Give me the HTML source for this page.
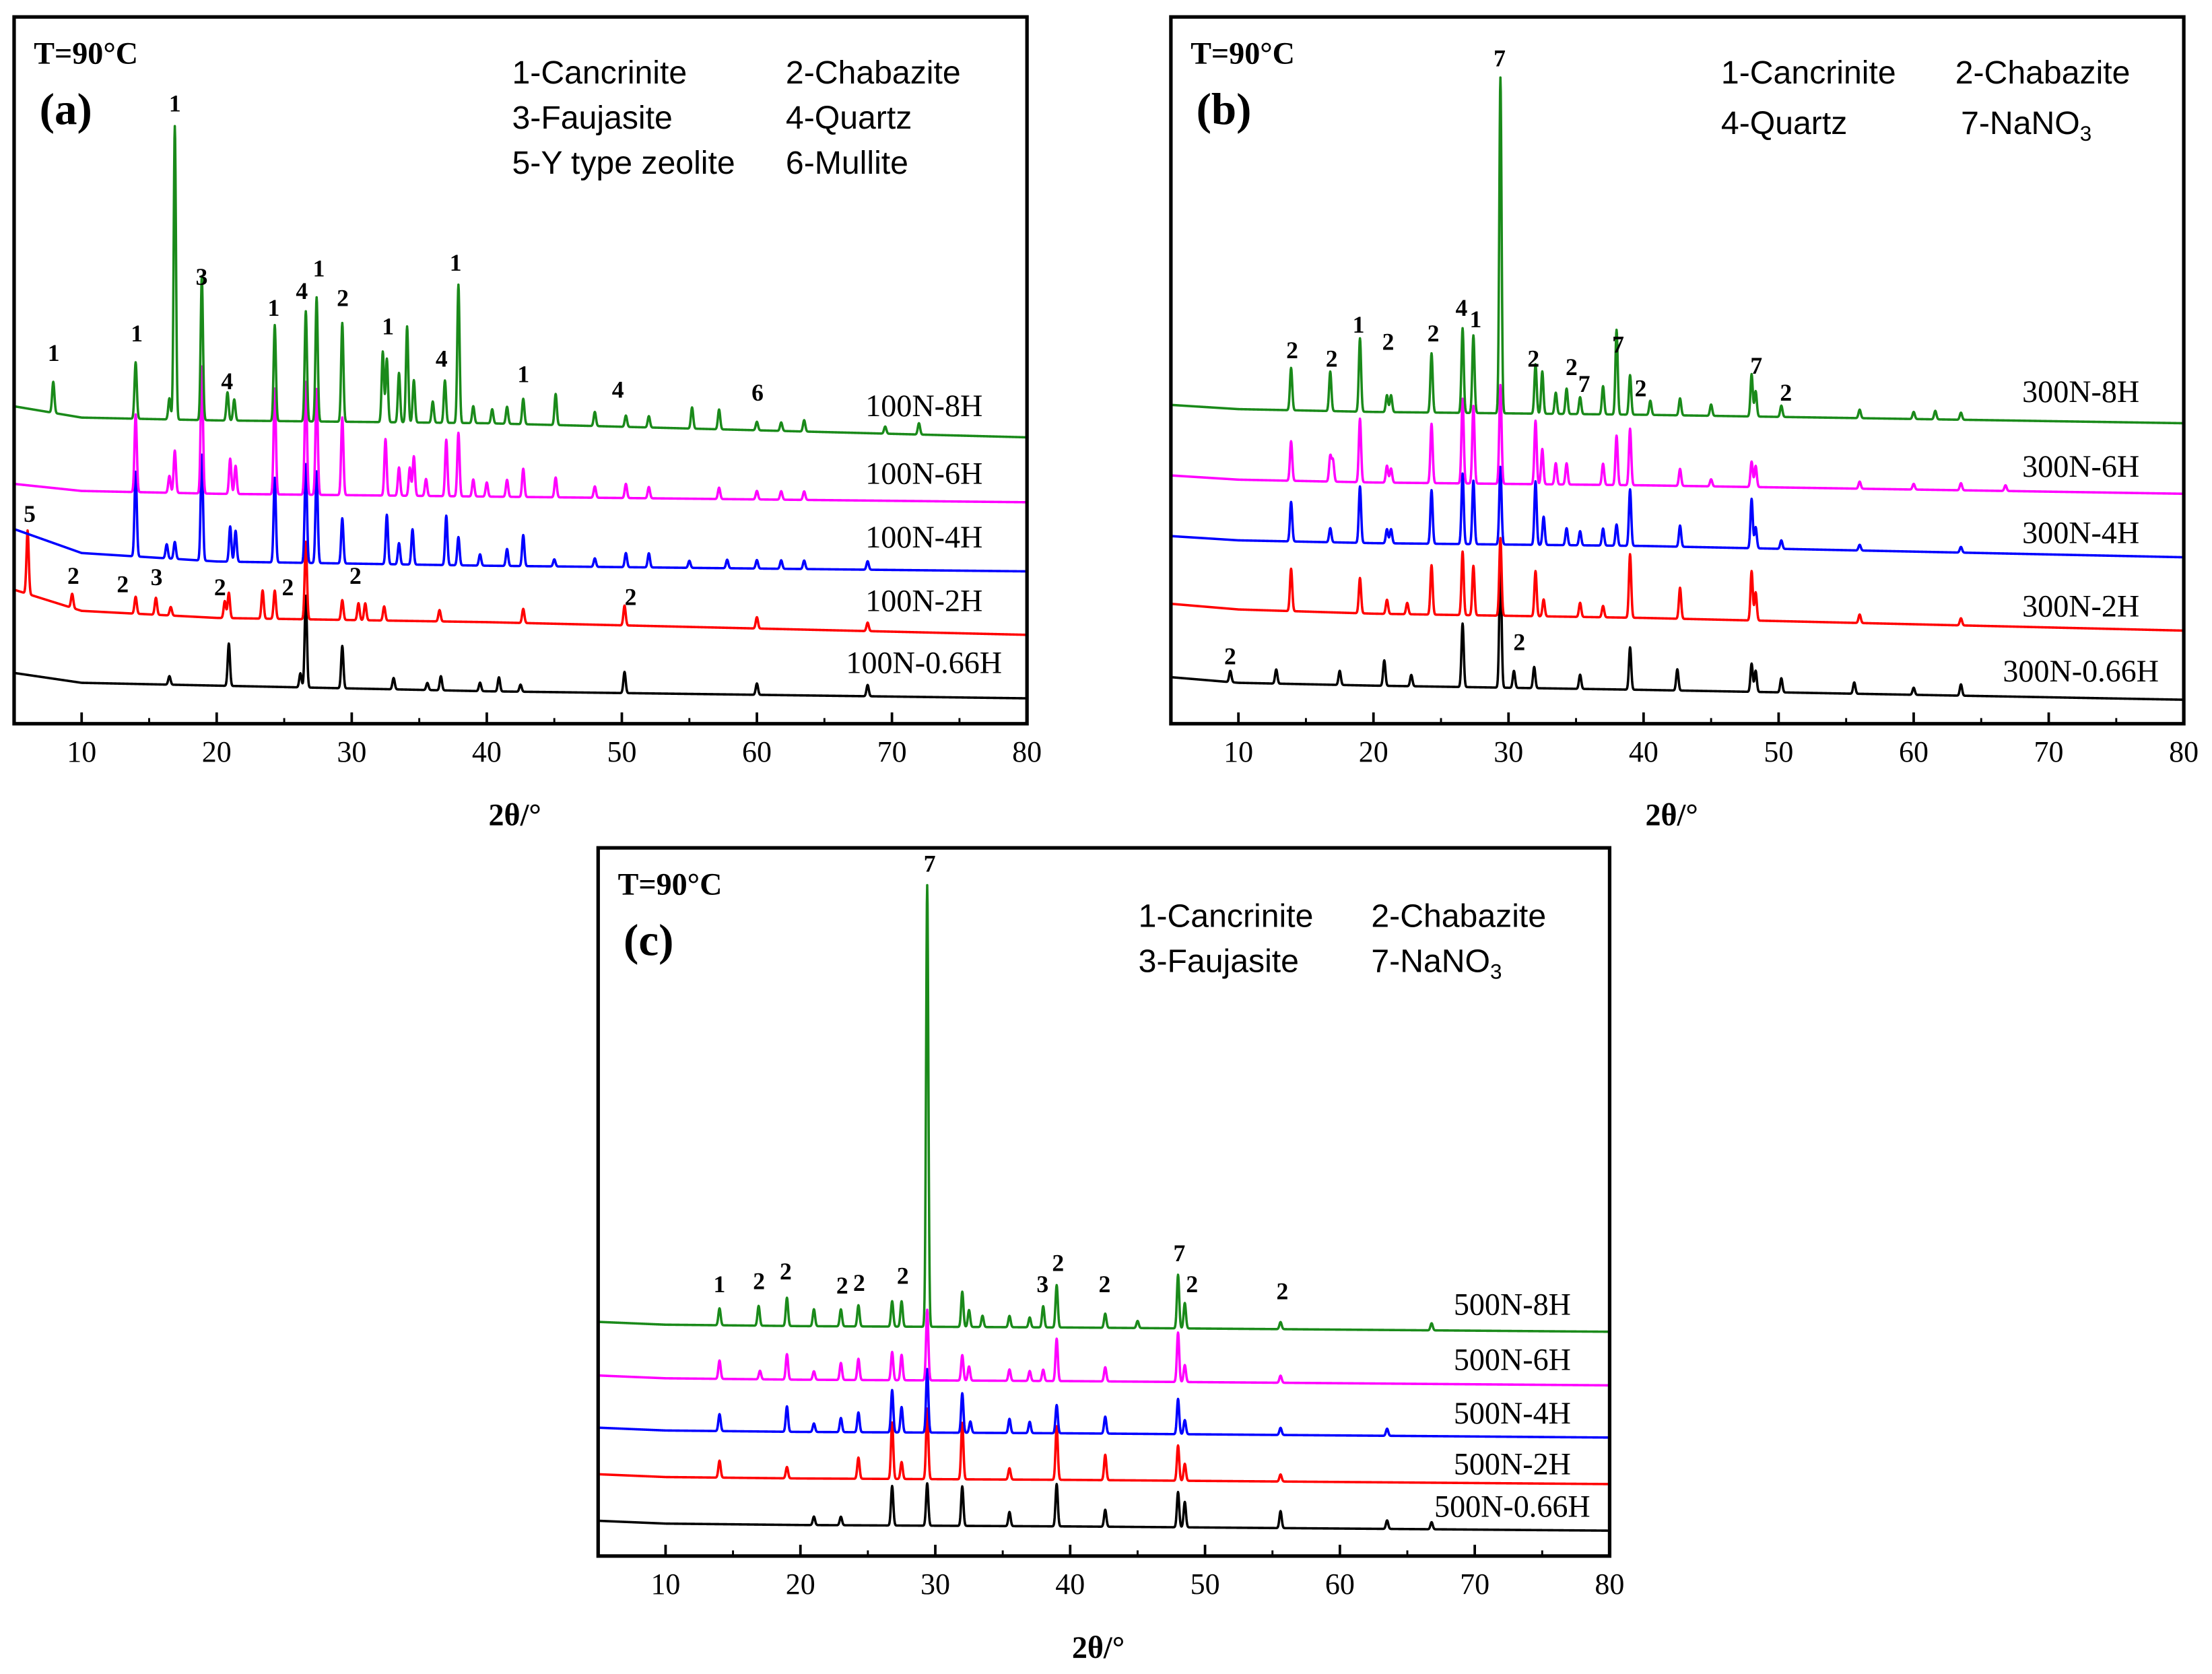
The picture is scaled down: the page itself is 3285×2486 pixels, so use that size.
<!DOCTYPE html>
<html><head><meta charset="utf-8"><title>XRD patterns</title>
<style>
html,body{margin:0;padding:0;background:#fff;}
svg{display:block;}
.tick{font-family:"Liberation Serif",serif;font-size:21px;fill:#000;}
.lbl{font-family:"Liberation Serif",serif;font-size:22px;fill:#000;}
.ann{font-family:"Liberation Serif",serif;font-size:17px;font-weight:bold;fill:#000;}
.leg{font-family:"Liberation Sans",sans-serif;font-size:23px;fill:#000;}
.temp{font-family:"Liberation Serif",serif;font-size:22px;font-weight:bold;fill:#000;}
.pl{font-family:"Liberation Serif",serif;font-size:32px;font-weight:bold;fill:#000;}
.ttl{font-family:"Liberation Serif",serif;font-size:22px;font-weight:bold;fill:#000;}
</style></head>
<body>
<svg id="fig" width="3285" height="2486" viewBox="0 0 1568 1186.6" xmlns="http://www.w3.org/2000/svg"></svg>
<script>
// ---- data ----
const seriesNames = ["0.66H","2H","4H","6H","8H"];
const seriesColors = ["#000000","#ff0000","#0000ff","#ff00ff","#1a8a1a"];
const baseKnots = [5,10,20,40,80];
const aBase = [[36,29,27,23,18],[95,80,75,72,63],[138,121,115,112,108],[170,165,163,161,157],[225,217,215,213,203]];
const bBase = [[33,29,27,24,17],[85,81,78,75,66],[133,130,128,126,118],[176,173,171,169,163],[226,223,221,219,213]];
const cBase = [[25,23,22,21,18],[58,56,55,54,51],[91,89,88,87,84],[128,126,125,124,121],[166,164,163,162,159]];
const aPeaks = [
 [[16.5,6],[20.9,30],[26.2,10],[26.6,65],[29.3,30],[33.1,8],[35.6,5],[36.6,10],[39.5,6],[40.9,10],[42.5,5],[50.2,15],[60,8],[68.2,8]],
 [[6.0,45],[9.3,10],[14,12],[15.5,12],[16.6,6],[20.6,12],[20.9,18],[23.4,20],[24.3,20],[26.6,55],[29.3,14],[30.5,12],[31,12],[32.4,10],[36.5,8],[42.7,10],[50.2,14],[60,8],[68.2,6]],
 [[14,60],[16.3,10],[16.9,12],[18.9,75],[21,25],[21.4,22],[24.3,60],[26.6,70],[27.4,65],[29.3,32],[32.6,35],[33.5,15],[34.5,25],[37,35],[37.9,20],[39.5,8],[41.5,12],[42.7,22],[45,5],[48,6],[50.3,10],[52,10],[55,5],[57.8,6],[60,6],[61.8,6],[63.5,6],[68.2,6]],
 [[14,55],[16.5,12],[16.9,30],[18.9,90],[21,25],[21.4,20],[24.3,75],[26.6,80],[27.4,75],[29.3,55],[32.5,40],[33.5,20],[34.3,20],[34.6,28],[35.5,12],[37,40],[37.9,45],[39,12],[40,10],[41.5,12],[42.7,20],[45.1,14],[48,8],[50.3,10],[52,8],[57.2,8],[60,6],[61.8,6],[63.5,6]],
 [[7.9,22],[14,40],[16.5,15],[16.9,208],[18.9,102],[20.8,20],[21.3,15],[24.3,68],[26.6,78],[27.4,88],[29.3,70],[32.3,50],[32.6,45],[33.5,35],[34.1,68],[34.6,30],[36,15],[36.9,30],[37.9,98],[39,12],[40.4,10],[41.5,12],[42.7,18],[45.1,22],[48,10],[50.3,8],[52,8],[55.2,15],[57.2,14],[60,6],[61.8,6],[63.5,8],[69.5,5],[72,8]]
];
const bPeaks = [
 [[9.4,8],[12.8,10],[17.5,10],[20.8,18],[22.8,8],[26.6,45],[29.4,90],[30.4,12],[31.9,15],[35.3,10],[39,30],[42.5,15],[48,20],[48.3,15],[50.2,10],[55.6,8],[60,5],[63.5,8]],
 [[13.9,30],[19,25],[21,10],[22.5,8],[24.3,35],[26.6,45],[27.4,35],[29.4,55],[32,32],[32.6,12],[35.3,10],[37,8],[39,45],[42.7,22],[48,35],[48.3,20],[56,6],[63.5,5]],
 [[13.9,28],[16.8,10],[19,40],[21,10],[21.3,10],[24.3,38],[26.6,50],[27.4,45],[29.4,55],[32,45],[32.6,20],[34.3,12],[35.3,10],[37,12],[38,15],[39,40],[42.7,15],[48,35],[48.3,15],[50.2,6],[56,4],[63.5,4]],
 [[13.9,28],[16.8,18],[17,15],[19,45],[21,12],[21.3,10],[24.3,42],[26.6,60],[27.4,55],[29.4,70],[32,45],[32.5,25],[33.5,15],[34.3,15],[37,15],[38,35],[39,40],[42.7,12],[45,5],[48,18],[48.3,15],[56,5],[60,4],[63.5,5],[66.8,4]],
 [[13.9,30],[16.8,28],[19,52],[21,12],[21.3,12],[24.3,42],[26.6,60],[27.4,55],[29.4,238],[32,35],[32.5,30],[33.5,15],[34.3,18],[35.3,12],[37,20],[38,60],[39,28],[40.5,10],[42.7,12],[45,8],[48,30],[48.3,18],[50.2,8],[56,6],[60,5],[61.6,6],[63.5,5]]
];
const cPeaks = [
 [[21,6],[23,6],[26.8,28],[29.4,30],[32,28],[35.5,10],[39,30],[42.6,12],[48,25],[48.5,18],[55.6,12],[63.5,6],[66.8,5]],
 [[14,12],[19,8],[24.3,15],[26.8,40],[27.5,12],[29.4,50],[32,40],[35.5,8],[39,38],[42.6,18],[48,25],[48.5,12],[55.6,5]],
 [[14,12],[19,18],[21,6],[23,10],[24.3,14],[26.8,30],[27.5,18],[29.4,45],[32,28],[32.6,8],[35.5,10],[37,8],[39,20],[42.6,12],[48,25],[48.5,10],[55.6,5],[63.5,5]],
 [[14,13],[17,6],[19,18],[21,6],[23,12],[24.3,15],[26.8,20],[27.5,18],[29.4,50],[32,18],[32.5,10],[35.5,8],[37,7],[38,8],[39,30],[42.6,10],[48,35],[48.5,12],[55.6,5]],
 [[14,12],[16.9,14],[19,20],[21,12],[23,12],[24.3,15],[26.8,18],[27.5,18],[29.4,313],[32,25],[32.5,12],[33.5,8],[35.5,8],[37,7],[38,15],[39,30],[42.6,10],[45,5],[48,38],[48.5,18],[55.6,5],[66.8,5]]
];
const xTicks = [10,20,30,40,50,60,70,80];
const minorTicks = [5,15,25,35,45,55,65,75];

const NS="http://www.w3.org/2000/svg";
const svg=document.getElementById('fig');
function mk(tag,attrs,parent){const e=document.createElementNS(NS,tag);for(const k in attrs)e.setAttribute(k,attrs[k]);(parent||svg).appendChild(e);return e;}

const panels=[
 {id:'a',x0:10,x1:728,y0:12,y1:513,base:aBase,peaks:aPeaks,prefix:'100N-',
  labels:[[655,472],[655,428],[655,383],[655,338],[655,290]]},
 {id:'b',x0:830,x1:1548,y0:12,y1:513,base:bBase,peaks:bPeaks,prefix:'300N-',
  labels:[[1475,478],[1475,432],[1475,380],[1475,333],[1475,280]]},
 {id:'c',x0:424,x1:1141,y0:601,y1:1103,base:cBase,peaks:cPeaks,prefix:'500N-',
  labels:[[1072,1070],[1072,1040],[1072,1004],[1072,966],[1072,927]]}
];

function baseAt(knots,x){
  for(let i=0;i<baseKnots.length-1;i++){
    if(x<=baseKnots[i+1]){const t=(x-baseKnots[i])/(baseKnots[i+1]-baseKnots[i]);return knots[i]+t*(knots[i+1]-knots[i]);}
  }
  return knots[knots.length-1];
}

panels.forEach(p=>{
  const g=mk('g',{});
  
  
  const xs=v=>p.x0+(v-5)/75*(p.x1-p.x0);
  const ys=I=>p.y1-I;
  const cp=mk('clipPath',{id:'clip-'+p.id},g);
  mk('rect',{x:p.x0,y:p.y0,width:p.x1-p.x0,height:p.y1-p.y0},cp);
  const tg=mk('g',{'clip-path':'url(#clip-'+p.id+')'},g);
  for(let s=0;s<5;s++){
    let d='';
    const pk=p.peaks[s];
    for(let x=5;x<=80.001;x+=0.025){
      let I=baseAt(p.base[s],x);
      for(const q of pk){const dx=(x-q[0])/0.085;if(Math.abs(dx)<6)I+=q[1]*Math.exp(-0.5*dx*dx);}
      d+=(d?'L':'M')+xs(x).toFixed(2)+' '+ys(I).toFixed(2);
    }
    const path=mk('path',{d:d,fill:'none',stroke:seriesColors[s],'stroke-width':1.7,'stroke-linejoin':'round'},tg);
    
    
    const t=mk('text',{x:p.labels[s][0],y:p.labels[s][1],'text-anchor':'middle','dominant-baseline':'middle',class:'lbl'},g);
    t.textContent=p.prefix+seriesNames[s];
    
    
  }
  const fr=mk('rect',{x:p.x0,y:p.y0,width:p.x1-p.x0,height:p.y1-p.y0,fill:'none',stroke:'#000','stroke-width':2.5},g);
  
  
  xTicks.forEach(v=>{
    mk('line',{x1:xs(v),x2:xs(v),y1:p.y1,y2:p.y1-8,stroke:'#000','stroke-width':1.8},g);
    const t=mk('text',{x:xs(v),y:p.y1+22,'text-anchor':'middle','dominant-baseline':'middle',class:'tick'},g);
    t.textContent=v;
    
    
  });
  minorTicks.forEach(v=>{mk('line',{x1:xs(v),x2:xs(v),y1:p.y1,y2:p.y1-4,stroke:'#000','stroke-width':1.4},g);});
  const at=mk('text',{x:(p.x0+p.x1)/2-4,y:p.y1+67,'text-anchor':'middle','dominant-baseline':'middle',class:'ttl'},g);
  at.textContent='2θ/°';
  
  
  const tt=mk('text',{x:p.x0+14,y:p.y0+33,class:'temp'},g);
  tt.textContent='T=90°C';
  
  
  const pl=mk('text',{x:p.x0+18,y:p.y0+76,class:'pl'},g);
  pl.textContent='('+p.id+')';
  
  
});

const legends=[
 ['1-Cancrinite',363,53],['2-Chabazite',557,53],['3-Faujasite',363,85],['4-Quartz',557,85],['5-Y type zeolite',363,117],['6-Mullite',557,117],
 ['1-Cancrinite',1220,53],['2-Chabazite',1386,53],['4-Quartz',1220,89],
 ['1-Cancrinite',807,651],['2-Chabazite',972,651],['3-Faujasite',807,683]
];
legends.forEach(l=>{
  const t=mk('text',{x:l[1],y:l[2],'dominant-baseline':'middle',class:'leg'});
  t.textContent=l[0];
  
  
});
[[1390,89],[972,683]].forEach(p=>{
  const t=mk('text',{x:p[0],y:p[1],'dominant-baseline':'middle',class:'leg'});
  t.innerHTML='7-NaNO<tspan dy="7" font-size="15">3</tspan>';
  
  
});

const annots=[
 ['1',38,252],['1',97,238],['1',124,75],['3',143,198],['4',161,272],['1',194,220],['4',214,208],['1',226,192],['2',243,213],['1',275,233],['4',313,256],['1',323,188],['1',371,267],['4',438,278],['6',537,280],['5',21,366],['2',52,410],['2',87,416],['3',111,411],['2',156,418],['2',204,418],['2',252,410],['2',447,425],
 ['7',1063,43],['2',916,250],['2',944,256],['1',963,232],['2',984,244],['2',1016,238],['4',1036,220],['1',1046,228],['2',1087,256],['2',1114,262],['7',1123,274],['7',1147,246],['2',1163,277],['7',1245,261],['2',1266,280],['2',872,467],['2',1077,457],
 ['7',659,614],['1',510,912],['2',538,910],['2',557,903],['2',597,913],['2',609,911],['2',640,906],['3',739,912],['2',750,897],['2',783,912],['7',836,890],['2',845,912],['2',909,917]
];
annots.forEach(a=>{
  const t=mk('text',{x:a[1],y:a[2],'text-anchor':'middle','dominant-baseline':'middle',class:'ann'});
  t.textContent=a[0];
  
  
});
</script>
</body></html>
